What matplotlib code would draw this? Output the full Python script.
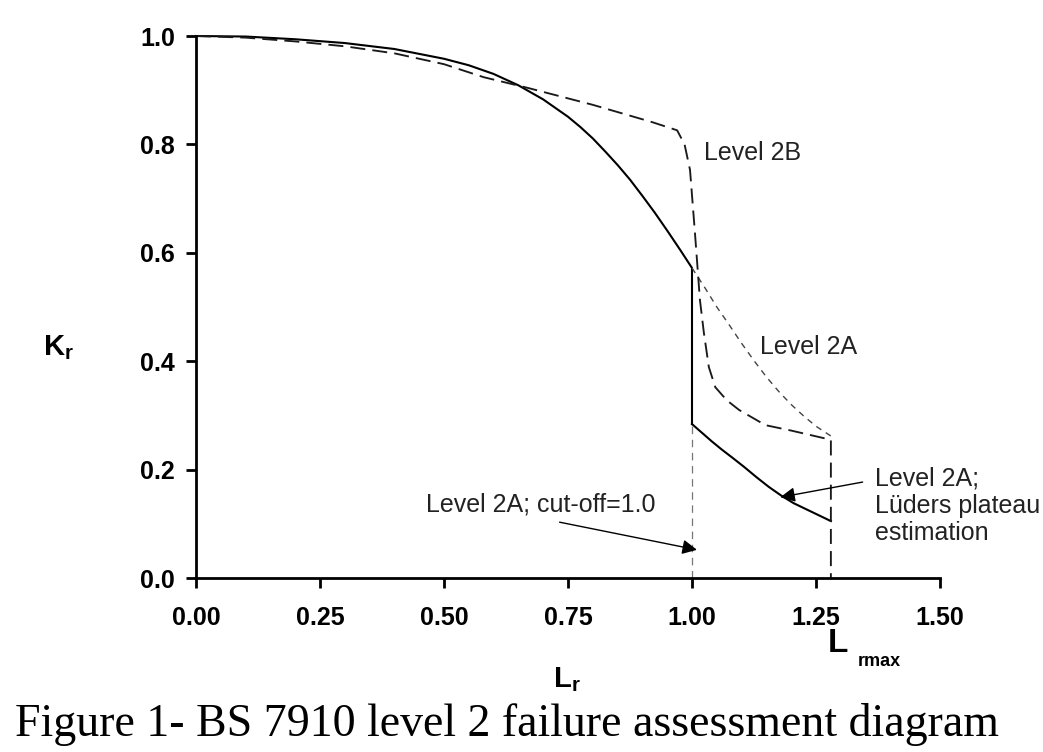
import matplotlib
matplotlib.use("Agg")
from matplotlib import pyplot as plt

plt.rcParams['font.family'] = ['Liberation Sans', 'DejaVu Sans']
plt.rcParams['mathtext.fontset'] = 'custom'
plt.rcParams['mathtext.rm'] = 'Liberation Sans'
plt.rcParams['mathtext.bf'] = 'Liberation Sans:bold'

# Level 2A curve (solid) up to cut-off, then vertical drop
lr_2a = [0.0, 0.1, 0.2, 0.3, 0.4, 0.5, 0.55, 0.6, 0.65, 0.7, 0.75, 0.775, 0.8, 0.825, 0.85,
         0.875, 0.9, 0.925, 0.95, 0.975, 1.0, 1.0]
kr_2a = [1.0, 0.999, 0.994, 0.987, 0.976, 0.958, 0.946, 0.930, 0.909, 0.883, 0.851, 0.832, 0.811,
         0.787, 0.762, 0.735, 0.705, 0.674, 0.641, 0.607, 0.572, 0.284]

# Level 2A; Luders plateau estimation (solid)
lr_lud = [1.0, 1.02, 1.04, 1.06, 1.08, 1.105, 1.13, 1.155, 1.18, 1.205, 1.23, 1.255, 1.28]
kr_lud = [0.284, 0.268, 0.252, 0.237, 0.223, 0.205, 0.186, 0.168, 0.152, 0.138, 0.127, 0.116, 0.105]

# Level 2A continued beyond Lr=1 (short dash)
lr_2a_ext = [1.0, 1.025, 1.05, 1.075, 1.1, 1.125, 1.15, 1.175, 1.2, 1.225, 1.25, 1.28]
kr_2a_ext = [0.572, 0.537, 0.50, 0.467, 0.433, 0.401, 0.371, 0.344, 0.32, 0.299, 0.28, 0.262]

# Level 2B (long dash) incl. cut-off at Lr max
lr_2b = [0.0, 0.1, 0.2, 0.3, 0.4, 0.5, 0.58, 0.67, 0.8, 0.92, 0.97, 0.985, 0.996, 1.006,
         1.016, 1.024, 1.034, 1.047, 1.07, 1.095, 1.148, 1.2, 1.28, 1.28]
kr_2b = [1.0, 0.997, 0.99, 0.981, 0.968, 0.948, 0.924, 0.904, 0.873, 0.841, 0.826, 0.80, 0.753, 0.636,
         0.513, 0.452, 0.389, 0.352, 0.328, 0.31, 0.282, 0.272, 0.255, 0.0]

# cut-off line at Lr = 1.0
lr_cut = [1.0, 1.0]
kr_cut = [0.0, 0.284]

fig = plt.figure(figsize=(10.43, 7.52), dpi=100)
ax = fig.add_axes([196 / 1043, 1 - 578 / 752, (940 - 196) / 1043, (578 - 36) / 752])

ax.plot(lr_2a, kr_2a, '-', color='black', lw=1.5, clip_on=False)
ax.plot(lr_lud, kr_lud, '-', color='black', lw=1.5)
ax.plot(lr_2a_ext, kr_2a_ext, color='#444444', lw=1.0, dashes=(4.3, 3.8))
ax.plot(lr_2b, kr_2b, color='#1a1a1a', lw=1.35, dashes=(8, 3.8), clip_on=False)
ax.plot(lr_cut, kr_cut, color='#777777', lw=0.9, dashes=(6, 4.5))

ax.set_xlim(0, 1.5)
ax.set_ylim(0, 1.0)
ax.set_xticks([0, 0.25, 0.5, 0.75, 1.0, 1.25, 1.5])
ax.set_xticklabels(['0.00', '0.25', '0.50', '0.75', '1.00', '1.25', '1.50'])
ax.set_yticks([0, 0.2, 0.4, 0.6, 0.8, 1.0])
ax.set_yticklabels(['0.0', '0.2', '0.4', '0.6', '0.8', '1.0'])
for s in ['top', 'right']:
    ax.spines[s].set_visible(False)
for s in ['left', 'bottom']:
    ax.spines[s].set_linewidth(2)
ax.tick_params(axis='both', width=2, length=7, labelsize=18)
ax.tick_params(axis='x', pad=13)
ax.tick_params(axis='y', pad=8)
for lab in ax.get_xticklabels() + ax.get_yticklabels():
    lab.set_fontweight('bold')

txt = '#222222'
ax.text(1.024, 0.784, 'Level 2B', fontsize=18, color=txt, va='center', ha='left')
ax.text(1.138, 0.426, 'Level 2A', fontsize=18, color=txt, va='center', ha='left')
ax.text(0.4636, 0.135, 'Level 2A; cut-off=1.0', fontsize=18, color=txt, va='center', ha='left')
ax.text(1.368, 0.205, 'Level 2A;\nLüders plateau\nestimation', fontsize=18, color=txt,
        va='top', ha='left', linespacing=1.15, clip_on=False)

arrow = dict(arrowstyle='-|>', mutation_scale=22, lw=1.0, color='black', shrinkA=0, shrinkB=0)
ax.annotate('', xy=(1.010, 0.052), xytext=(0.733, 0.103), arrowprops=arrow)
ax.annotate('', xy=(1.178, 0.149), xytext=(1.344, 0.177), arrowprops=arrow)

# axis titles
fig.text(43 / 1043, 1 - 348 / 752, r'$\mathbf{K_r}$', fontsize=21, va='center', ha='left')
fig.text(553 / 1043, 1 - 680 / 752, r'$\mathbf{L_r}$', fontsize=21, va='center', ha='left')
fig.text(828 / 1043, 1 - 643 / 752, 'L', fontsize=24, fontweight='bold', va='center', ha='left')
fig.text(858 / 1043, 1 - 662 / 752, 'rmax', fontsize=13, fontweight='bold', va='center', ha='left')

fig.text(15 / 1043, 1 - 725 / 752, 'Figure 1- BS 7910 level 2 failure assessment diagram',
         fontsize=33, family='Liberation Serif', va='center', ha='left')

fig.savefig('out.png', dpi=100)
